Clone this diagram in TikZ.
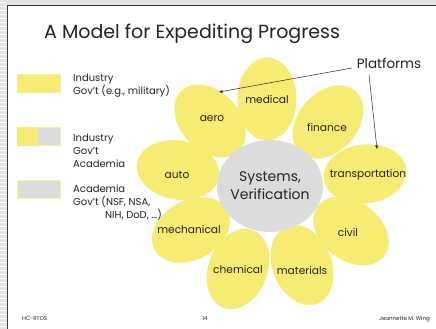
\documentclass[tikz,border=0pt]{standalone}
\usepackage{fontspec}
\setmainfont{Poppins}
\usetikzlibrary{shapes.geometric,arrows.meta}
\definecolor{petalY}{RGB}{247,236,115}
\definecolor{coreG}{RGB}{220,220,220}
\definecolor{inkC}{RGB}{35,35,35}
\definecolor{frameC}{RGB}{60,60,60}
\definecolor{stripeC}{RGB}{228,228,228}
\tikzset{
  petal/.style={ellipse, fill=petalY, draw=none, inner sep=0pt, minimum width=83pt, minimum height=59pt},
  lbl/.style={text=inkC, inner sep=0pt, font=\fontsize{10.6}{12}\selectfont},
  leg/.style={text=inkC, inner sep=0pt, anchor=west, align=left, font=\fontsize{10}{13}\selectfont},
  foot/.style={text=inkC, inner sep=0pt, font=\fontsize{5.5}{6}\selectfont},
  swatch/.style={rectangle, draw=petalY!70!white, line width=0.5pt, inner sep=0pt, minimum width=43pt, minimum height=18pt},
  ptr/.style={draw=inkC, line width=0.5pt, -{Stealth[length=4pt,width=3pt]}}
}
\begin{document}
\begin{tikzpicture}[x=1pt,y=-1pt]
\useasboundingbox (0,0) rectangle (436,329);
\fill[white] (0,0) rectangle (436,329);
% margins
\fill[stripeC] (0,0) rectangle (436,5);
\fill[stripeC] (0,0) rectangle (7,329);
\foreach \yy in {2,6,...,329} { \draw[white, line width=0.8pt] (0,\yy) -- (6,\yy); }
\draw[frameC, line width=1.6pt] (7.5,329) -- (7.5,5.5) -- (436,5.5);
% title
\node[text=inkC, inner sep=0pt, anchor=west, font=\fontsize{19}{22}\selectfont] (title) at (44,34) {A Model for Expediting Progress};
% legend
\node[swatch, fill=petalY] (sw1) at (38.5,83) {};
\node[leg] (l1) at (73,86) {Industry\\Gov't (e.g., military)};
\node[swatch, fill=coreG] (sw2) at (38.5,136.5) {};
\fill[petalY] (sw2.north west) rectangle ([xshift=-0.25pt]sw2.south);
\node[leg] (l2) at (73,150.5) {Industry\\Gov't\\Academia};
\node[swatch, fill=coreG] (sw3) at (38.5,189) {};
\node[leg] (l3) at (73,202.5) {Academia\\Gov't (NSF, NSA,\\\hspace*{32pt}NIH, DoD, …)};
% petals
\node[petal, rotate=90] (p-medical) at (267,99) {};
\node[petal, rotate=-47] (p-aero) at (210,121) {};
\node[petal, rotate=48] (p-finance) at (328,122) {};
\node[petal, rotate=-10] (p-auto) at (178,170) {};
\node[petal, rotate=7] (p-transport) at (365,174) {};
\node[petal, rotate=29] (p-mech) at (191,230) {};
\node[petal, rotate=143] (p-civil) at (351,231) {};
\node[petal, rotate=69] (p-chem) at (238,269) {};
\node[petal, rotate=112] (p-mat) at (302,265) {};
% core
\node[ellipse, fill=coreG, inner sep=0pt, minimum width=106pt, minimum height=92pt] (core) at (270,186) {};
\node[text=inkC, inner sep=0pt, align=center, font=\fontsize{14}{18}\selectfont] (t-core) at (270,186) {Systems,\\Verification};
% petal labels
\node[lbl] (t-medical) at (267,100) {medical};
\node[lbl] (t-aero) at (212,119) {aero};
\node[lbl] (t-finance) at (327,127) {finance};
\node[lbl] (t-auto) at (177,175) {auto};
\node[lbl] (t-transport) at (368,175) {transportation};
\node[lbl] (t-mech) at (189,230) {mechanical};
\node[lbl] (t-civil) at (348,233) {civil};
\node[lbl] (t-chem) at (238,270) {chemical};
\node[lbl] (t-mat) at (302,271) {materials};
% platforms
\node[text=inkC, inner sep=0pt, font=\fontsize{13.5}{15}\selectfont] (plat) at (389,63) {Platforms};
\coordinate (aeroTip) at (219,92);
\coordinate (transTip) at (377,149);
\coordinate (platA) at (352,68);
\coordinate (platB) at (369,75);
\draw[ptr] (platA) -- (aeroTip);
\draw[ptr] (platB) -- (transTip);
% footer
\node[foot, anchor=west] (f1) at (22,319) {HC-RTOS};
\node[foot] (f2) at (205,319) {14};
\node[foot, anchor=east] (f3) at (430,319) {Jeannette M. Wing};
\end{tikzpicture}
\end{document}
